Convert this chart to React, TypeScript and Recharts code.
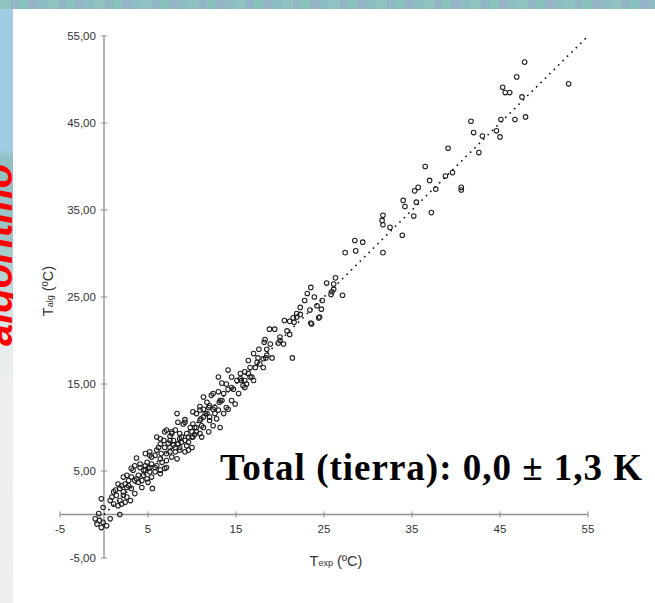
import React from "react";
import { ScatterChart, Scatter, XAxis, YAxis, ReferenceLine } from "recharts";

// T_exp (x) / T_alg (y) pairs, grouped by region of the cloud
const texpHigh = [
  47.8, 46.9, 52.8, 45.3, 45.6, 46.1, 47.5, 41.7, 45.1, 46.7,
  47.9, 42.0, 43.0, 44.6, 45.0, 39.1, 42.6, 36.5, 37.0, 38.8,
  39.6, 40.6, 40.6, 35.7, 35.3, 37.7, 34.0, 34.2, 35.5, 35.2,
  37.2, 31.7, 31.6, 31.7, 32.5, 33.9, 28.5, 29.4, 27.4, 28.6,
  31.7, 26.3, 25.3, 26.1, 26.1, 25.9, 25.8, 27.1,
];
const talgHigh = [
  52.0, 50.3, 49.5, 49.1, 48.5, 48.5, 48.0, 45.2, 45.4, 45.4,
  45.7, 43.9, 43.5, 44.1, 43.4, 42.1, 41.6, 40.0, 38.4, 38.9,
  39.3, 37.6, 37.3, 37.6, 37.2, 37.4, 36.1, 35.4, 35.9, 34.3,
  34.7, 34.4, 33.8, 33.3, 33.0, 32.1, 31.5, 31.3, 30.1, 30.3,
  30.1, 27.2, 26.6, 26.5, 25.9, 25.6, 25.3, 25.2,
];

const texpMid = [
  23.5, 23.1, 23.9, 22.8, 24.8, 24.2, 22.3, 23.4, 24.7, 21.9,
  21.5, 21.9, 22.3, 24.4, 20.5, 21.1, 23.5, 21.6, 18.8, 19.4,
  20.8, 21.1, 18.3, 18.2, 20.0, 18.9, 19.8, 17.6, 18.5, 17.0,
  17.5, 18.4, 19.1, 21.4, 23.6, 24.5, 20.0, 20.4, 18.1, 18.5,
  17.7, 18.1, 16.4, 17.4, 16.6,
];
const talgMid = [
  26.1, 25.4, 25.0, 24.6, 24.6, 24.0, 23.8, 23.5, 23.6, 23.1,
  22.6, 22.7, 23.0, 22.6, 22.3, 22.2, 22.0, 22.1, 21.3, 21.3,
  21.1, 20.7, 20.1, 19.8, 20.0, 19.6, 19.7, 19.0, 19.0, 18.5,
  18.0, 18.0, 18.0, 18.0, 21.9, 22.7, 20.4, 19.6, 17.9, 18.3,
  17.3, 16.9, 17.7, 17.5, 16.9,
];

const texpBand = [
  14.1, 15.5, 16.0, 16.4, 13.0, 14.5, 15.1, 13.4, 13.9, 16.0,
  16.2, 15.5, 15.8, 16.6, 17.0, 14.1, 14.7, 12.4, 13.0, 11.3,
  12.2, 13.4, 13.1, 14.9, 11.7, 11.9, 14.1, 12.6, 13.0, 10.1,
  10.5, 10.9, 11.3, 12.0, 8.3, 9.2, 8.4, 10.9, 13.2, 10.1,
  10.5, 9.8, 10.9, 11.3, 12.0, 9.0, 9.2, 11.1, 11.5,
];
const talgBand = [
  16.6, 16.2, 16.4, 16.2, 15.8, 15.8, 15.4, 15.1, 15.0, 15.4,
  15.0, 15.6, 14.8, 15.8, 15.4, 14.4, 14.4, 13.9, 14.1, 13.5,
  13.7, 13.1, 12.9, 12.7, 12.9, 12.3, 12.1, 12.3, 12.0, 11.8,
  11.6, 12.0, 11.2, 11.2, 11.6, 10.6, 10.6, 10.8, 10.0, 10.4,
  10.0, 10.0, 12.4, 12.1, 12.5, 10.4, 10.9, 10.2, 11.6,
];

const texpLow = [
  7.1, 7.7, 8.1, 8.6, 9.4, 10.1, 10.9, 6.4, 6.8, 7.3,
  7.9, 7.5, 8.6, 9.4, 6.9, 7.5, 10.0, 10.3, 6.0, 8.8,
  9.2, 9.6, 9.6, 8.6, 8.1, 6.9, 6.2, 6.4, 7.9, 8.4,
  8.8, 3.7, 4.7, 5.2, 5.4, 5.8, 6.4, 4.9, 5.4, 6.0,
  6.6, 7.1, 7.7, 8.1, 3.5, 3.3, 4.1, 4.5, 5.0, 5.8,
  6.4, 6.9, 4.7, 5.2,
];
const talgLow = [
  9.7, 9.3, 9.7, 9.3, 9.3, 8.9, 9.3, 8.7, 8.5, 8.2,
  8.0, 7.7, 7.7, 7.9, 9.5, 9.0, 9.5, 9.2, 8.9, 8.9,
  8.5, 8.9, 7.4, 7.4, 7.7, 7.7, 7.7, 8.1, 8.5, 8.1,
  8.3, 6.5, 7.0, 7.2, 6.6, 6.8, 6.4, 6.0, 5.8, 5.6,
  6.0, 7.0, 6.6, 7.2, 5.6, 5.1, 5.4, 5.1, 5.3, 4.9,
  5.1, 5.3, 5.6, 5.4,
];

const texpFill = [
  4.7, 6.5, 7.1, 8.6, 10.0, 10.3, 11.0, 11.7, 12.4, 13.2, 13.6, 14.5, 15.6, 17.2,
  7.7, 7.5, 6.0, 5.2, 4.1, 3.1, 2.2, 1.6, 1.1,
  3.5, 4.3, 5.0, 6.4, 7.1, 8.3, 9.2, 10.0, 11.1, 11.9, 12.4, 12.8, 13.6, 13.9, 14.5, 15.3, 16.0, 16.8,
  5.8, 7.5, 8.4, 9.6, 10.5, 11.3, 12.0, 12.6,
];
const talgFill = [
  5.1, 7.0, 6.2, 8.7, 8.9, 10.0, 11.0, 11.6, 12.1, 13.1, 13.9, 14.6, 15.4, 16.9,
  9.5, 8.5, 7.4, 6.8, 5.8, 5.3, 4.3, 3.5, 2.6,
  2.4, 3.1, 3.7, 4.7, 5.4, 6.4, 7.2, 7.7, 8.9, 9.5, 10.2, 11.0, 11.6, 12.3, 13.1, 13.9, 14.6, 15.8,
  5.4, 7.2, 8.1, 8.3, 9.5, 10.0, 10.8, 11.6,
];

const texpOrigin = [
  3.9, 4.5, 5.2, 2.6, 3.1, 2.8,
  3.5, 3.9, 3.7, 4.3, 4.9, 5.4, 5.5, 2.4, 2.8, 2.0,
  1.3, 1.8, 2.2, 2.6, 3.1, 0.9, 1.4, 1.8, 2.2, 2.6,
  1.1, 1.6, 2.0, 2.4, 3.0, 0.7, -0.3, -0.1, 1.8, -0.6,
  -1.0, -0.5, -0.1, -0.8, 0.3, -0.3, 0.7,
];
const talgOrigin = [
  4.5, 4.5, 4.9, 4.5, 4.3, 3.9,
  3.9, 3.7, 4.1, 3.9, 4.1, 4.3, 3.0, 3.5, 3.3, 3.3,
  2.8, 3.0, 2.6, 3.1, 3.0, 2.0, 2.2, 1.6, 2.2, 2.0,
  1.2, 1.0, 1.2, 1.4, 1.6, 1.6, 1.8, 0.8, 0.0, 0.1,
  -0.5, -0.7, -0.9, -1.1, -1.3, -1.5, -0.5,
];

// 1:1 line
const fitX = [-1, 55];
const fitY = [-1, 55];

const xTicks = [-5, 5, 15, 25, 35, 45, 55];
const yTicks = [55, 45, 35, 25, 15, 5, -5];

const texp = [...texpHigh, ...texpMid, ...texpBand, ...texpLow, ...texpFill, ...texpOrigin];
const talg = [...talgHigh, ...talgMid, ...talgBand, ...talgLow, ...talgFill, ...talgOrigin];
const points = texp.map((x, i) => ({ x, y: talg[i] }));

const AXIS = "#8f8f8f";
const TICK_TEXT = { fill: "#333", fontSize: 11.5, fontFamily: "Liberation Sans, Arial, sans-serif" };

const fmtY = (v: number) => v.toFixed(2).replace(".", ",");

const Ring = (props: any) => {
  const { cx, cy } = props;
  if (cx == null || cy == null) return null;
  return <circle cx={cx} cy={cy} r={2.3} fill="none" stroke="#1e1e1e" strokeWidth={1.05} />;
};

export default function App() {
  return (
    <div
      style={{
        position: "absolute",
        left: 0,
        top: 0,
        width: 655,
        height: 603,
        overflow: "hidden",
        background: "#fff",
        fontFamily: "Liberation Sans, Arial, sans-serif",
      }}
    >
      {/* slide decoration */}
      <div
        style={{
          position: "absolute",
          left: 0,
          top: 0,
          width: 655,
          height: 9,
          background:
            "repeating-linear-gradient(90deg, #8fc2c0 0 11px, #93b6c6 11px 19px, #86c3bb 19px 28px, #97b4c9 28px 37px, #8dbdc2 37px 47px)",
        }}
      />
      <div
        style={{
          position: "absolute",
          left: 0,
          top: 9,
          width: 13,
          height: 594,
          background:
            "linear-gradient(180deg, #a2cce2 0px, #a2cce2 140px, #90c0c2 150px, #9cc6c6 230px, #e4ecec 330px, #efefef 400px, #ededed 594px)",
        }}
      />
      <div
        style={{
          position: "absolute",
          left: -22,
          top: 346,
          transformOrigin: "0 0",
          transform: "rotate(-90deg)",
          color: "#ff0000",
          fontFamily: "Liberation Sans, Arial, sans-serif",
          fontWeight: "bold",
          fontStyle: "italic",
          fontSize: 40,
          lineHeight: "40px",
          whiteSpace: "nowrap",
        }}
      >
        algoritmo
      </div>
      <div style={{ position: "absolute", left: 13, top: 9, width: 642, height: 594, background: "#fff" }} />

      <div style={{ position: "absolute", left: 0, top: 0 }}>
        <ScatterChart width={655} height={603} margin={{ top: 36, left: 60, right: 67, bottom: 45 }}>
          <XAxis type="number" dataKey="x" domain={[-5, 55]} hide />
          <YAxis type="number" dataKey="y" domain={[-5, 55]} hide />
          <ReferenceLine x={0} stroke={AXIS} strokeWidth={1.3} />
          <ReferenceLine y={0} stroke={AXIS} strokeWidth={1.3} />
          {xTicks.map((v) => (
            <ReferenceLine
              key={"xt" + v}
              segment={[
                { x: v, y: -0.35 },
                { x: v, y: 0.35 },
              ]}
              stroke={AXIS}
              strokeWidth={1}
              label={{ value: String(v), position: "bottom", offset: 7, ...TICK_TEXT }}
            />
          ))}
          {yTicks.map((v) => (
            <ReferenceLine
              key={"yt" + v}
              segment={[
                { x: -0.35, y: v },
                { x: 0.35, y: v },
              ]}
              stroke={AXIS}
              strokeWidth={1}
              label={{ value: fmtY(v), position: "left", offset: 5, ...TICK_TEXT }}
            />
          ))}
          <ReferenceLine
            segment={[
              { x: fitX[0], y: fitY[0] },
              { x: fitX[1], y: fitY[1] },
            ]}
            stroke="#111"
            strokeWidth={1.6}
            strokeDasharray="1.6 4.6"
          />
          <Scatter data={points} shape={Ring} isAnimationActive={false} />
        </ScatterChart>
      </div>

      {/* axis titles */}
      <div
        style={{
          position: "absolute",
          left: 48,
          top: 291,
          transform: "translate(-50%, -50%) rotate(-90deg)",
          whiteSpace: "nowrap",
          color: "#333",
          fontSize: 14.5,
        }}
      >
        T<span style={{ fontSize: 9 }}>alg</span> (ºC)
      </div>
      <div
        style={{
          position: "absolute",
          left: 336,
          top: 561,
          transform: "translate(-50%, -50%)",
          whiteSpace: "nowrap",
          color: "#333",
          fontSize: 14.5,
        }}
      >
        T<span style={{ fontSize: 9 }}>exp</span> (ºC)
      </div>

      <div
        style={{
          position: "absolute",
          left: 220,
          top: 449,
          fontFamily: "Liberation Serif, Times New Roman, serif",
          fontWeight: "bold",
          fontSize: 37,
          lineHeight: "37px",
          letterSpacing: 1,
          color: "#000",
          whiteSpace: "nowrap",
        }}
      >
        Total (tierra): 0,0 ± 1,3 K
      </div>
    </div>
  );
}
